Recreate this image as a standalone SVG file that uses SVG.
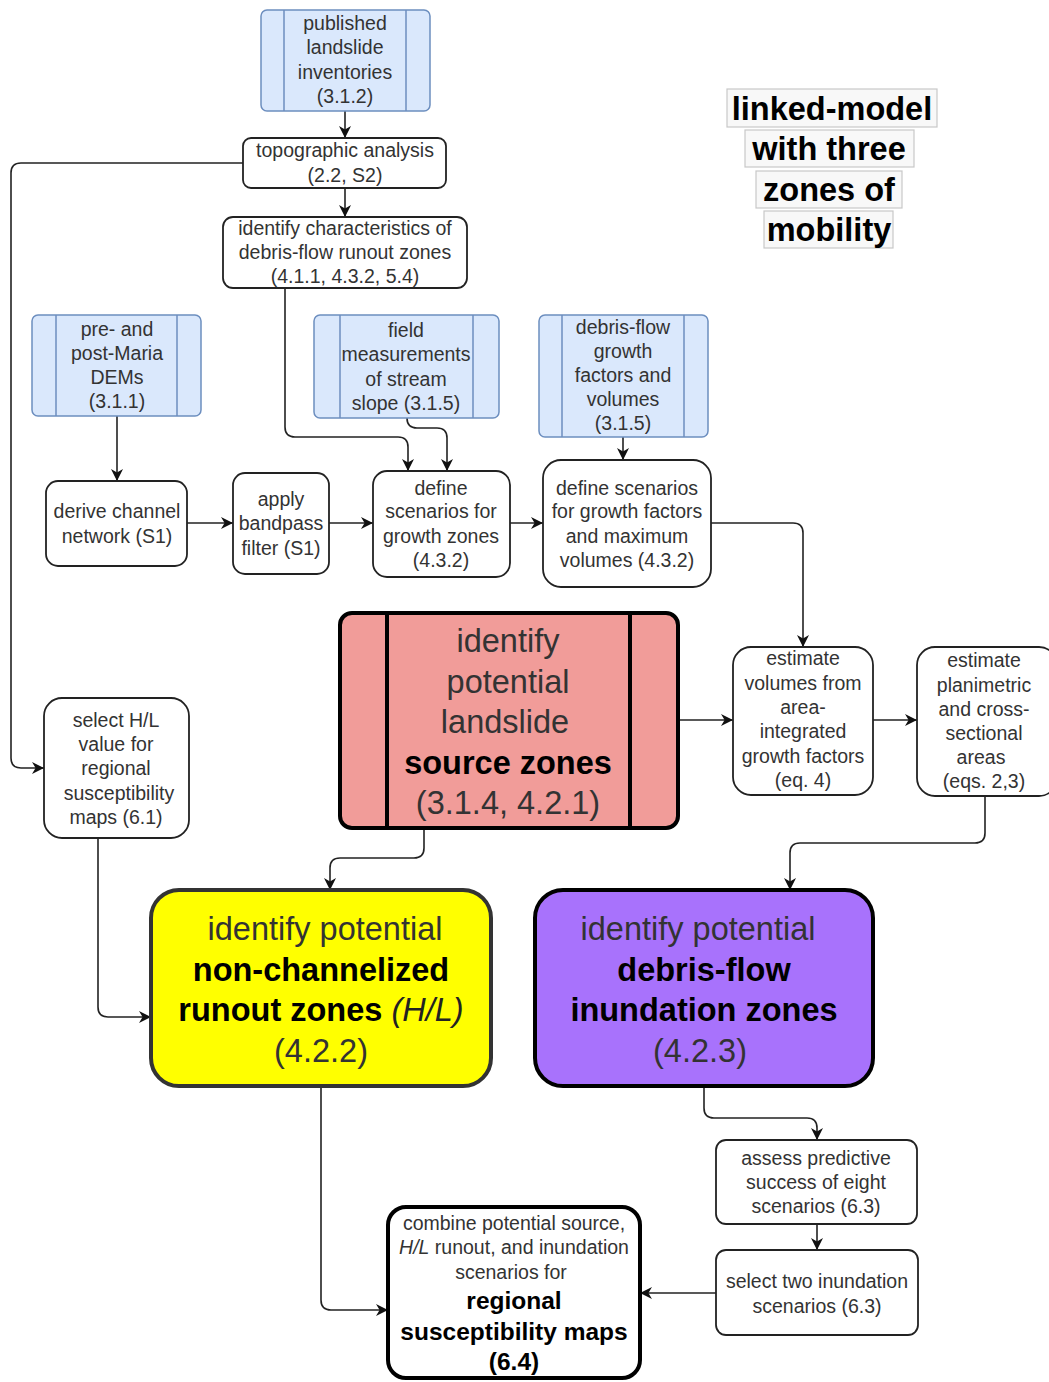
<svg xmlns="http://www.w3.org/2000/svg" width="1049" height="1382" viewBox="0 0 1049 1382">
<defs>
<marker id="arr" markerUnits="userSpaceOnUse" markerWidth="12" markerHeight="13" refX="10" refY="5" orient="auto" viewBox="0 0 10 10">
<path d="M0,0 L10,5 L0,10 L3,5 Z" fill="#111"/>
</marker>
<style>
text{font-family:"Liberation Sans",Arial,sans-serif;text-anchor:middle;fill:#333}
.s{font-size:19.5px}
.b{font-size:32.5px}
.bb{font-size:32.5px;font-weight:bold;fill:#000}
.mb{font-size:24.5px;font-weight:bold;fill:#000}
.t{font-size:32.5px;font-weight:bold;fill:#000}
.blue{fill:#dae8fc;stroke:#6c8ebf;stroke-width:1.5}
.bl{stroke:#6c8ebf;stroke-width:1.5}
.w{fill:#fff;stroke:#222;stroke-width:1.8}
.c{fill:none;stroke:#222;stroke-width:1.6;marker-end:url(#arr)}
.tb{fill:#f8f8f8;stroke:#c8c8c8;stroke-width:1.2}
</style>
</defs>
<rect width="1049" height="1382" fill="#fff"/>

<g id="connectors">
<path class="c" d="M345,111 V138"/>
<path class="c" d="M345,188 V217"/>
<path class="c" d="M243,163 H21 Q11,163 11,173 V758 Q11,768 21,768 H44"/>
<path class="c" d="M285,288 V427 Q285,437 295,437 H398 Q408,437 408,447 V471"/>
<path class="c" d="M407,418 Q407,428 417,428 H437 Q447,428 447,438 V471"/>
<path class="c" d="M117,416 V481"/>
<path class="c" d="M187,523 H233"/>
<path class="c" d="M329,523 H373"/>
<path class="c" d="M510,523 H543"/>
<path class="c" d="M623,437 V460"/>
<path class="c" d="M711,523 H793 Q803,523 803,533 V647"/>
<path class="c" d="M678,720 H733"/>
<path class="c" d="M873,720 H917"/>
<path class="c" d="M985,796 V833 Q985,843 975,843 H800 Q790,843 790,853 V890"/>
<path class="c" d="M424,828 V848 Q424,858 414,858 H340 Q330,858 330,868 V890"/>
<path class="c" d="M98,838 V1007 Q98,1017 108,1017 H151"/>
<path class="c" d="M321,1086 V1300 Q321,1310 331,1310 H388"/>
<path class="c" d="M704,1086 V1108 Q704,1118 714,1118 H807 Q817,1118 817,1128 V1140"/>
<path class="c" d="M817,1224 V1250"/>
<path class="c" d="M716,1293 H640"/>
</g>

<g id="title">
<rect class="tb" x="727" y="89" width="210" height="38"/>
<rect class="tb" x="745" y="130" width="169" height="37"/>
<rect class="tb" x="756" y="171" width="146" height="37"/>
<rect class="tb" x="764" y="211" width="129" height="37"/>
<text class="t" x="832" y="120">linked-model</text>
<text class="t" x="829" y="160">with three</text>
<text class="t" x="829" y="201">zones of</text>
<text class="t" x="829" y="241">mobility</text>
</g>

<g id="published">
<rect class="blue" x="261" y="10" width="169" height="101" rx="6"/>
<line class="bl" x1="284" y1="10" x2="284" y2="111"/>
<line class="bl" x1="406" y1="10" x2="406" y2="111"/>
<text class="s" x="345" y="30">published</text>
<text class="s" x="345" y="54">landslide</text>
<text class="s" x="345" y="79">inventories</text>
<text class="s" x="345" y="103">(3.1.2)</text>
</g>

<g id="topographic">
<rect class="w" x="243" y="138" width="203" height="50" rx="8"/>
<text class="s" x="345" y="157">topographic analysis</text>
<text class="s" x="345" y="182">(2.2, S2)</text>
</g>

<g id="characteristics">
<rect class="w" x="223" y="217" width="244" height="71" rx="10"/>
<text class="s" x="345" y="235">identify characteristics of</text>
<text class="s" x="345" y="259">debris-flow runout zones</text>
<text class="s" x="345" y="283">(4.1.1, 4.3.2, 5.4)</text>
</g>

<g id="dems">
<rect class="blue" x="32" y="315" width="169" height="101" rx="6"/>
<line class="bl" x1="56" y1="315" x2="56" y2="416"/>
<line class="bl" x1="177" y1="315" x2="177" y2="416"/>
<text class="s" x="117" y="336">pre- and</text>
<text class="s" x="117" y="360">post-Maria</text>
<text class="s" x="117" y="384">DEMs</text>
<text class="s" x="117" y="408">(3.1.1)</text>
</g>

<g id="field">
<rect class="blue" x="314" y="315" width="185" height="103" rx="6"/>
<line class="bl" x1="340" y1="315" x2="340" y2="418"/>
<line class="bl" x1="473" y1="315" x2="473" y2="418"/>
<text class="s" x="406" y="337">field</text>
<text class="s" x="406" y="361">measurements</text>
<text class="s" x="406" y="386">of stream</text>
<text class="s" x="406" y="410">slope (3.1.5)</text>
</g>

<g id="growthdata">
<rect class="blue" x="539" y="315" width="169" height="122" rx="6"/>
<line class="bl" x1="562" y1="315" x2="562" y2="437"/>
<line class="bl" x1="684" y1="315" x2="684" y2="437"/>
<text class="s" x="623" y="334">debris-flow</text>
<text class="s" x="623" y="358">growth</text>
<text class="s" x="623" y="382">factors and</text>
<text class="s" x="623" y="406">volumes</text>
<text class="s" x="623" y="430">(3.1.5)</text>
</g>

<g id="derive">
<rect class="w" x="46" y="481" width="141" height="85" rx="12"/>
<text class="s" x="117" y="518">derive channel</text>
<text class="s" x="117" y="543">network (S1)</text>
</g>

<g id="bandpass">
<rect class="w" x="233" y="473" width="96" height="101" rx="12"/>
<text class="s" x="281" y="506">apply</text>
<text class="s" x="281" y="530">bandpass</text>
<text class="s" x="281" y="555">filter (S1)</text>
</g>

<g id="growthzones">
<rect class="w" x="373" y="471" width="137" height="106" rx="14"/>
<text class="s" x="441" y="495">define</text>
<text class="s" x="441" y="518">scenarios for</text>
<text class="s" x="441" y="543">growth zones</text>
<text class="s" x="441" y="567">(4.3.2)</text>
</g>

<g id="growthfactors">
<rect class="w" x="543" y="460" width="168" height="127" rx="18"/>
<text class="s" x="627" y="495">define scenarios</text>
<text class="s" x="627" y="518">for growth factors</text>
<text class="s" x="627" y="543">and maximum</text>
<text class="s" x="627" y="567">volumes (4.3.2)</text>
</g>

<g id="source">
<rect x="340" y="613" width="338" height="215" rx="12" fill="#f19c99" stroke="#000" stroke-width="4"/>
<line x1="387" y1="613" x2="387" y2="828" stroke="#000" stroke-width="4"/>
<line x1="630" y1="613" x2="630" y2="828" stroke="#000" stroke-width="4"/>
<text class="b" x="508" y="652">identify</text>
<text class="b" x="508" y="693">potential</text>
<text class="b" x="505" y="733">landslide</text>
<text class="bb" x="508" y="774">source zones</text>
<text class="b" x="508" y="814">(3.1.4, 4.2.1)</text>
</g>

<g id="hl">
<rect class="w" x="44" y="698" width="145" height="140" rx="18"/>
<text class="s" x="116" y="727">select H/L</text>
<text class="s" x="116" y="751">value for</text>
<text class="s" x="116" y="775">regional</text>
<text class="s" x="119" y="800">susceptibility</text>
<text class="s" x="116" y="824">maps (6.1)</text>
</g>

<g id="volumes">
<rect class="w" x="733" y="647" width="140" height="148" rx="18"/>
<text class="s" x="803" y="665">estimate</text>
<text class="s" x="803" y="690">volumes from</text>
<text class="s" x="803" y="714">area-</text>
<text class="s" x="803" y="738">integrated</text>
<text class="s" x="803" y="763">growth factors</text>
<text class="s" x="803" y="787">(eq. 4)</text>
</g>

<g id="planimetric">
<rect class="w" x="917" y="647" width="140" height="149" rx="18"/>
<text class="s" x="984" y="667">estimate</text>
<text class="s" x="984" y="692">planimetric</text>
<text class="s" x="984" y="716">and cross-</text>
<text class="s" x="984" y="740">sectional</text>
<text class="s" x="981" y="764">areas</text>
<text class="s" x="984" y="788">(eqs. 2,3)</text>
</g>

<g id="runout">
<rect x="151" y="890" width="340" height="196" rx="28" fill="#ffff00" stroke="#333" stroke-width="4"/>
<text class="b" x="325" y="940">identify potential</text>
<text class="bb" x="321" y="981">non-channelized</text>
<text x="321" y="1021" style="font-size:32.5px"><tspan style="font-weight:bold;fill:#000">runout zones </tspan><tspan style="font-style:italic;fill:#222">(H/L)</tspan></text>
<text class="b" x="321" y="1062">(4.2.2)</text>
</g>

<g id="inundation">
<rect x="535" y="890" width="338" height="196" rx="28" fill="#a872fc" stroke="#000" stroke-width="4"/>
<text class="b" x="698" y="940">identify potential</text>
<text class="bb" x="704" y="981">debris-flow</text>
<text class="bb" x="704" y="1021">inundation zones</text>
<text class="b" x="700" y="1062">(4.2.3)</text>
</g>

<g id="assess">
<rect class="w" x="716" y="1140" width="201" height="84" rx="10"/>
<text class="s" x="816" y="1165">assess predictive</text>
<text class="s" x="816" y="1189">success of eight</text>
<text class="s" x="816" y="1213">scenarios (6.3)</text>
</g>

<g id="selecttwo">
<rect class="w" x="716" y="1250" width="202" height="85" rx="10"/>
<text class="s" x="817" y="1288">select two inundation</text>
<text class="s" x="817" y="1313">scenarios (6.3)</text>
</g>

<g id="combine">
<rect x="388" y="1207" width="252" height="171" rx="18" fill="#fff" stroke="#000" stroke-width="4"/>
<text class="s" x="514" y="1230">combine potential source,</text>
<text class="s" x="514" y="1254"><tspan style="font-style:italic">H/L</tspan> runout, and inundation</text>
<text class="s" x="511" y="1279">scenarios for</text>
<text class="mb" x="514" y="1309">regional</text>
<text class="mb" x="514" y="1340">susceptibility maps</text>
<text class="mb" x="514" y="1370">(6.4)</text>
</g>
</svg>
